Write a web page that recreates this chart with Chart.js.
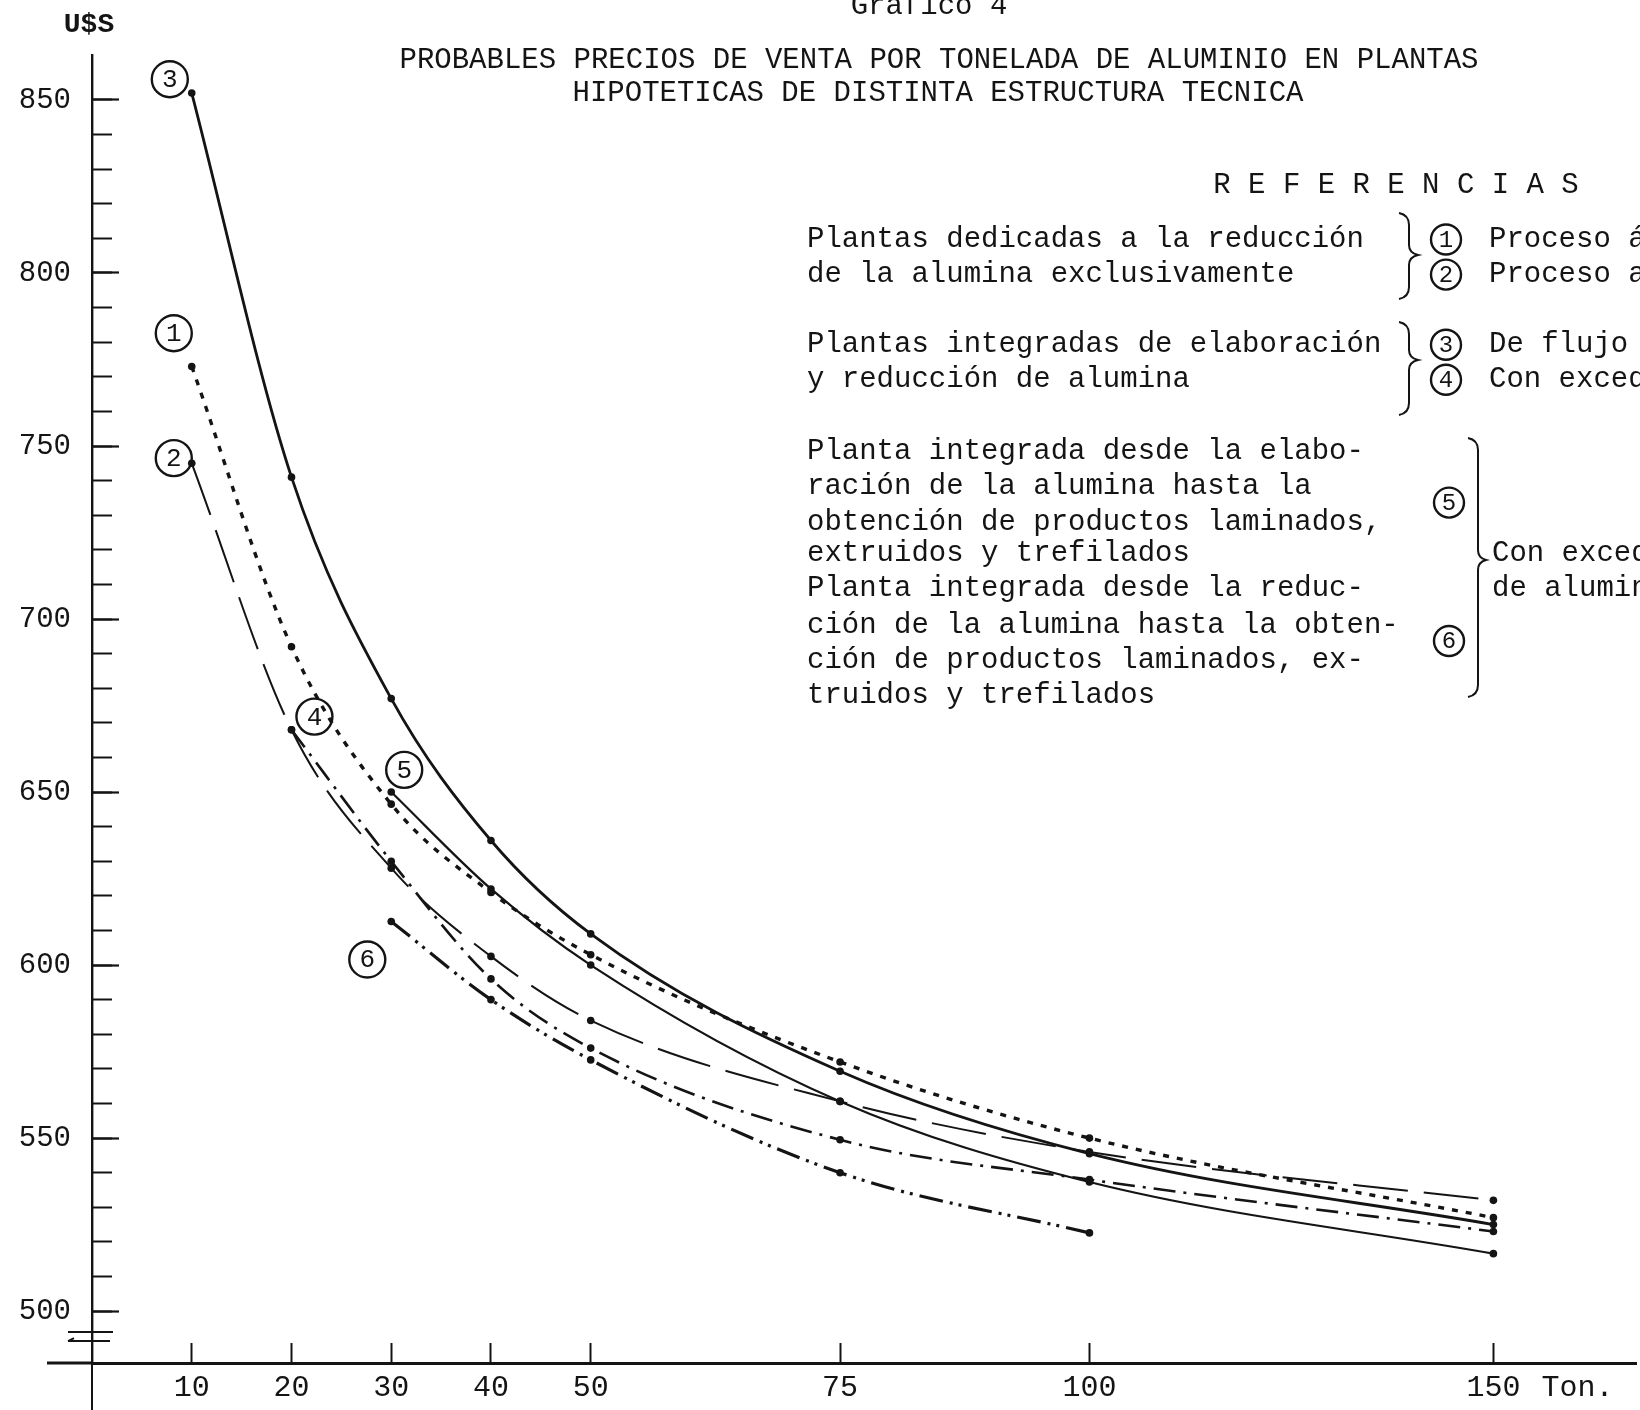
<!DOCTYPE html>
<html>
<head>
<meta charset="utf-8">
<script src="https://cdn.jsdelivr.net/npm/chart.js@4.4.1/dist/chart.umd.min.js"></script>
<style>
  html, body { margin: 0; padding: 0; background: #fff; }
</style>
</head>
<body>
<canvas id="myChart" width="1640" height="1410"></canvas>
<script>
// Toneladas (eje x) y precio U$S por tonelada (eje y)
let tons1 = [10, 20, 30, 40, 50, 75, 100, 150];
let price1 = [773, 692, 646.5, 621, 603, 572, 550, 527];

let tons2 = [10, 20, 30, 40, 50, 75, 100, 150];
let price2 = [745, 668, 628, 602.5, 584, 560.6, 546, 532];

let tons3 = [10, 20, 30, 40, 50, 75, 100, 150];
let price3 = [852, 741, 677, 636, 609, 569.3, 545.5, 525];

let tons4 = [20, 30, 40, 50, 75, 100, 150];
let price4 = [668, 630, 596, 576, 549.5, 538, 523];

let tons5 = [30, 40, 50, 75, 100, 150];
let price5 = [650, 622, 600, 560.6, 537.3, 516.6];

let tons6 = [30, 40, 50, 75, 100];
let price6 = [612.6, 590, 572.6, 540, 522.6];

// ticks
let xTicks = [10, 20, 30, 40, 50, 75, 100, 150];
let yTicks = [500, 550, 600, 650, 700, 750, 800, 850];
let yMinorTicks = [];
for (let v = 500; v <= 850; v += 10) yMinorTicks.push(v);

// numeros en circulo junto a cada curva (posicion en valores del grafico)
let curveTags = [
    {n: '1', x: 8.2, y: 782.6},
    {n: '2', x: 8.2, y: 746.5},
    {n: '3', x: 7.8, y: 856},
    {n: '4', x: 22.3, y: 671.8},
    {n: '5', x: 31.3, y: 656.4},
    {n: '6', x: 27.6, y: 601.6}
];

const MONO = '"Liberation Mono", "DejaVu Sans Mono", monospace';
const INK = '#141414';

// eje x con el tramo 100-150 comprimido, como en el original
const BREAK_AT = 100, SQUEEZE = 0.81;
class TramoScale extends Chart.LinearScale {
    bend(v) { return v <= BREAK_AT ? v : BREAK_AT + (v - BREAK_AT) * SQUEEZE; }
    unbend(t) { return t <= BREAK_AT ? t : BREAK_AT + (t - BREAK_AT) / SQUEEZE; }
    getPixelForValue(value) {
        if (value === null || isNaN(value)) return NaN;
        const a = this.bend(this.min), b = this.bend(this.max);
        return this.getPixelForDecimal((this.bend(value) - a) / (b - a));
    }
    getValueForPixel(pixel) {
        const a = this.bend(this.min), b = this.bend(this.max);
        return this.unbend(a + this.getDecimalForPixel(pixel) * (b - a));
    }
}
TramoScale.id = 'tramo';
TramoScale.defaults = Chart.LinearScale.defaults;
Chart.register(TramoScale);

function pts(xs, ys) {
    return xs.map((x, i) => ({x: x, y: ys[i]}));
}

function serie(xs, ys, dash, width) {
    return {
        data: pts(xs, ys),
        borderColor: INK,
        borderWidth: width,
        borderDash: dash,
        pointRadius: 3.8,
        pointBackgroundColor: INK,
        pointBorderWidth: 0,
        cubicInterpolationMode: 'monotone',
        fill: false
    };
}

// sin margen extra para las etiquetas: el area del grafico queda donde la fija el layout
function noPad(s) {
    s.paddingTop = 0;
    s.paddingBottom = 0;
    s.paddingLeft = 0;
    s.paddingRight = 0;
}

function circled(ctx, n, cx, cy, r, size) {
    ctx.beginPath();
    ctx.lineWidth = 2.4;
    ctx.arc(cx, cy, r, 0, Math.PI * 2);
    ctx.stroke();
    ctx.font = size + 'px ' + MONO;
    ctx.textAlign = 'center';
    ctx.textBaseline = 'middle';
    ctx.fillText(n, cx, cy + 1);
}

function brace(ctx, x, top, bottom, tip, d) {
    ctx.beginPath();
    ctx.lineWidth = 2;
    ctx.moveTo(x - 10, top);
    ctx.quadraticCurveTo(x, top + 2, x, top + 12);
    ctx.lineTo(x, tip - 10);
    ctx.quadraticCurveTo(x, tip - 2, x + d, tip);
    ctx.quadraticCurveTo(x, tip + 2, x, tip + 10);
    ctx.lineTo(x, bottom - 12);
    ctx.quadraticCurveTo(x, bottom - 2, x - 10, bottom);
    ctx.stroke();
}

const textos = {
    id: 'textos',
    afterDraw(chart) {
        const ctx = chart.ctx;
        const xs = chart.scales.x, ys = chart.scales.y;
        const area = chart.chartArea;
        ctx.save();
        ctx.fillStyle = INK;
        ctx.strokeStyle = INK;

        // prolongacion de los ejes y corte del eje y
        ctx.lineWidth = 3;
        ctx.beginPath();
        ctx.moveTo(47, area.bottom);
        ctx.lineTo(area.left, area.bottom);
        ctx.stroke();
        ctx.lineWidth = 2;
        ctx.beginPath();
        ctx.moveTo(area.left, area.bottom);
        ctx.lineTo(area.left, chart.height);
        ctx.stroke();
        const y500 = ys.getPixelForValue(500);
        ctx.beginPath();
        ctx.moveTo(68, y500 + 21);
        ctx.lineTo(113, y500 + 21);
        ctx.moveTo(68, y500 + 30);
        ctx.lineTo(110, y500 + 30);
        ctx.moveTo(68, y500 + 30);
        ctx.lineTo(74, y500 + 27);
        ctx.stroke();

        // unidades
        ctx.font = 'bold 28px ' + MONO;
        ctx.textAlign = 'center';
        ctx.textBaseline = 'middle';
        ctx.fillText('U$S', 89, 25);
        ctx.font = '30px ' + MONO;
        ctx.textAlign = 'left';
        ctx.fillText('Ton.', xs.getPixelForValue(150) + 48, area.bottom + 25);

        // titulo
        ctx.font = '29px ' + MONO;
        ctx.textAlign = 'center';
        ctx.textBaseline = 'alphabetic';
        ctx.fillText('Gráfico 4', 929, 14);
        ctx.textBaseline = 'middle';
        ctx.fillText('PROBABLES PRECIOS DE VENTA POR TONELADA DE ALUMINIO EN PLANTAS', 939, 60);
        ctx.fillText('HIPOTETICAS DE DISTINTA ESTRUCTURA TECNICA', 938, 93);
        ctx.fillText('R E F E R E N C I A S', 1396, 185);

        // referencias
        const lineas = [
            ['Plantas dedicadas a la reducción', 239.5],
            ['de la alumina exclusivamente', 274.6],
            ['Plantas integradas de elaboración', 344.7],
            ['y reducción de alumina', 379.8],
            ['Planta integrada desde la elabo-', 451.8],
            ['ración de la alumina hasta la', 486.8],
            ['obtención de productos laminados,', 522],
            ['extruidos y trefilados', 553.5],
            ['Planta integrada desde la reduc-', 588.6],
            ['ción de la alumina hasta la obten-', 625.4],
            ['ción de productos laminados, ex-', 660.5],
            ['truidos y trefilados', 695.6]
        ];
        ctx.textAlign = 'left';
        lineas.forEach(l => ctx.fillText(l[0], 807, l[1]));
        ctx.fillText('Proceso ácido', 1489, 239.5);
        ctx.fillText('Proceso alcalino', 1489, 274.6);
        ctx.fillText('De flujo continuo', 1489, 344.7);
        ctx.fillText('Con excedentes', 1489, 379.8);
        ctx.fillText('Con excedentes', 1492, 553.5);
        ctx.fillText('de alumina', 1492, 588.6);

        brace(ctx, 1409, 213, 299, 255, 9);
        brace(ctx, 1409, 322, 415, 360, 9);
        brace(ctx, 1478, 438, 697, 560, 8);

        circled(ctx, '1', 1446, 239.5, 15, 24);
        circled(ctx, '2', 1446, 274.6, 15, 24);
        circled(ctx, '3', 1446, 344.7, 15, 24);
        circled(ctx, '4', 1446, 379.8, 15, 24);
        circled(ctx, '5', 1449, 502.6, 15, 24);
        circled(ctx, '6', 1449, 641, 15, 24);

        // etiquetas de las curvas
        curveTags.forEach(t => {
            circled(ctx, t.n, xs.getPixelForValue(t.x), ys.getPixelForValue(t.y), 18, 26);
        });
        ctx.restore();
    }
};

let myChart = document.getElementById('myChart').getContext('2d');

let chart = new Chart(myChart, {
    type: 'line',
    data: {
        datasets: [
            serie(tons1, price1, [6, 8], 3.4),
            serie(tons2, price2, [55, 16], 2),
            serie(tons3, price3, [], 2.8),
            serie(tons4, price4, [22, 8, 3, 8], 2.6),
            serie(tons5, price5, [], 2.2),
            serie(tons6, price6, [24, 7, 3, 6, 3, 7], 3.2)
        ]
    },
    options: {
        responsive: false,
        animation: false,
        devicePixelRatio: 1,
        layout: {padding: {top: 55, left: 0, right: 0, bottom: 0}},
        plugins: {
            legend: {display: false},
            tooltip: {enabled: false}
        },
        scales: {
            x: {
                type: 'tramo',
                min: 0,
                max: 167.65,
                afterBuildTicks: s => { s.ticks = xTicks.map(v => ({value: v})); },
                afterFit: s => { s.height = 47; noPad(s); },
                border: {display: true, color: INK, width: 3},
                grid: {drawOnChartArea: false, drawTicks: true, tickLength: -20, tickWidth: 2, tickColor: INK},
                ticks: {autoSkip: false, maxRotation: 0, padding: 27, color: INK, font: {family: MONO, size: 30}}
            },
            y: {
                type: 'linear',
                position: 'left',
                weight: 1,
                min: 485,
                max: 863,
                afterBuildTicks: s => { s.ticks = yTicks.map(v => ({value: v})); },
                afterFit: s => { s.width = 92; noPad(s); },
                border: {display: true, color: INK, width: 2.4},
                grid: {drawOnChartArea: false, drawTicks: true, tickLength: -27, tickWidth: 2.2, tickColor: INK},
                ticks: {autoSkip: false, padding: 48, color: INK, font: {family: MONO, size: 29}}
            },
            yMinor: {
                type: 'linear',
                position: 'left',
                weight: 0,
                min: 485,
                max: 863,
                afterBuildTicks: s => { s.ticks = yMinorTicks.map(v => ({value: v})); },
                afterFit: s => { s.width = 0; noPad(s); },
                border: {display: false},
                grid: {drawOnChartArea: false, drawTicks: true, tickLength: -20, tickWidth: 2, tickColor: INK},
                ticks: {display: false, autoSkip: false}
            }
        }
    },
    plugins: [textos]
});
</script>
</body>
</html>
